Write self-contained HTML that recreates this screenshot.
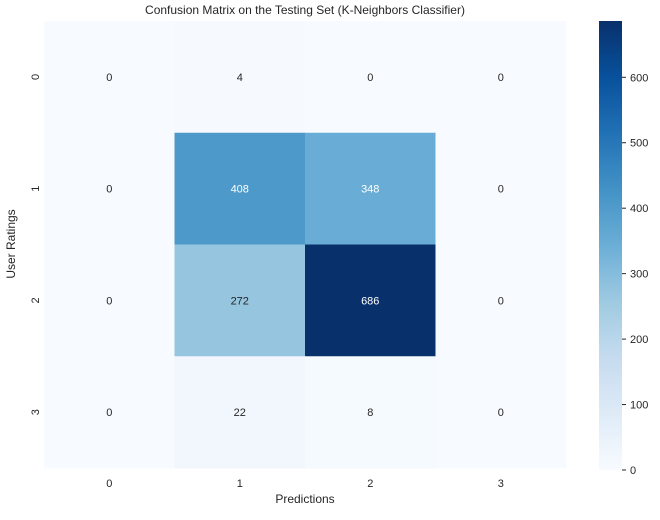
<!DOCTYPE html>
<html><head><meta charset="utf-8"><style>
body{margin:0;background:#fff;font-family:"Liberation Sans",Arial,sans-serif;}
svg text{font-family:"Liberation Sans",Arial,sans-serif;fill:#262626;}
</style></head><body>
<svg id="chart" width="660" height="515" viewBox="0 0 660 515">
<text x="305" y="14" font-size="12" text-anchor="middle">Confusion Matrix on the Testing Set (K-Neighbors Classifier)</text>
<g id="cells"></g>
<g id="axes"></g>
<defs><linearGradient id="cbg" x1="0" y1="1" x2="0" y2="0"></linearGradient></defs>
<rect x="599" y="21" width="23" height="449" fill="url(#cbg)"/>
<g id="cbar"></g>
<text x="305" y="503" font-size="12" text-anchor="middle">Predictions</text>
<text x="0" y="0" font-size="12" text-anchor="middle" transform="translate(15,244) rotate(-90)">User Ratings</text>
</svg>
<script>
const rowLabels=["0","1","2","3"];
const colLabels=["0","1","2","3"];
const matrix=[[0,4,0,0],[0,408,348,0],[0,272,686,0],[0,22,8,0]];
const cbTicks=[0,100,200,300,400,500,600];
const NS="http://www.w3.org/2000/svg";
const X0=44,Y0=21,W=522,H=447,CB0=470,CB1=21;
const vmin=0,vmax=Math.max(...matrix.flat());
const stops=["#f7fbff","#deebf7","#c6dbef","#9ecae1","#6baed6","#4292c6","#2171b5","#08519c","#08306b"].map(h=>[1,3,5].map(i=>parseInt(h.substr(i,2),16)));
function cmap(t){t=Math.max(0,Math.min(1,t));const p=t*8,i=Math.min(7,Math.floor(p)),f=p-i;return stops[i].map((c,k)=>Math.round(c+(stops[i+1][k]-c)*f));}
function relLum(c){const l=c.map(v=>{v/=255;return v<=0.03928?v/12.92:Math.pow((v+0.055)/1.055,2.4);});return 0.2126*l[0]+0.7152*l[1]+0.0722*l[2];}
function mk(tag,a,p){const e=document.createElementNS(NS,tag);for(const k in a)e.setAttribute(k,a[k]);p.appendChild(e);return e;}
const cw=W/colLabels.length,ch=H/rowLabels.length;
const cells=document.getElementById('cells');
matrix.forEach((row,r)=>row.forEach((v,c)=>{
 const col=cmap((v-vmin)/(vmax-vmin));
 const rc=mk('rect',{x:X0+c*cw,y:Y0+r*ch,width:cw+0.5,height:ch+0.5,fill:`rgb(${col})`},cells);
 
 
 const t=mk('text',{x:X0+c*cw+cw/2,y:Y0+r*ch+ch/2+4,'font-size':11,'text-anchor':'middle'},cells);
 
 
 t.style.fill=relLum(col)>0.408?'#262626':'#ffffff';
 t.textContent=v;
}));
const axes=document.getElementById('axes');
colLabels.forEach((l,i)=>{const t=mk('text',{x:X0+i*cw+cw/2,y:Y0+H+19,'font-size':11,'text-anchor':'middle'},axes);
 
 
 t.textContent=l;});
rowLabels.forEach((l,i)=>{const y=Y0+i*ch+ch/2;const t=mk('text',{x:0,y:0,'font-size':11,'text-anchor':'middle',transform:`translate(39,${y}) rotate(-90)`},axes);
 
 
 t.textContent=l;});
const g=document.getElementById('cbg');
for(let i=0;i<=16;i++){mk('stop',{offset:i/16,'stop-color':`rgb(${cmap(i/16)})`},g);}
const cb=document.getElementById('cbar');
const cy=v=>CB0-(v-vmin)/(vmax-vmin)*(CB0-CB1);
cbTicks.forEach(v=>{const y=cy(v);
 const ln=mk('line',{x1:622,x2:626,y1:y,y2:y,stroke:'#262626','stroke-width':1},cb);
 
 
 const t=mk('text',{x:630,y:y+4,'font-size':11},cb);
 
 
 t.textContent=v;});
</script>
</body></html>
